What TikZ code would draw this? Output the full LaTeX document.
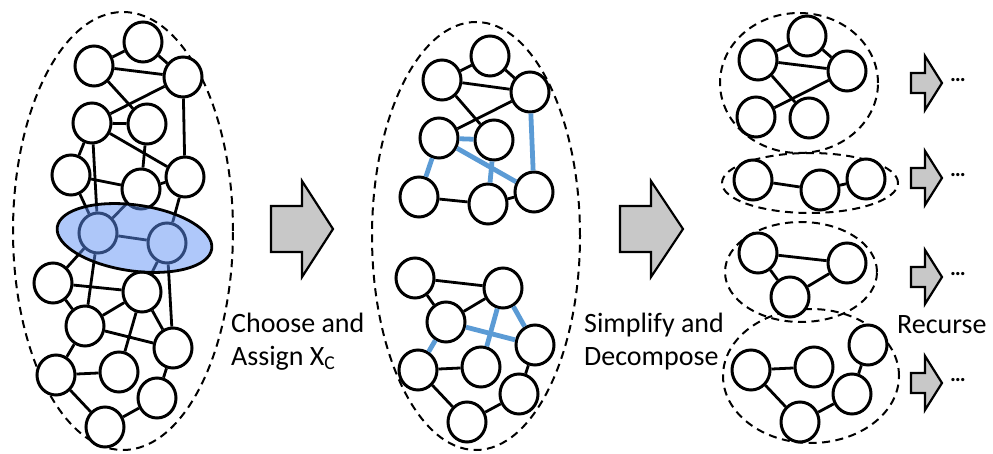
\documentclass[tikz,border=0pt]{standalone}
\usepackage{fontspec}
\setmainfont{Carlito}
\usetikzlibrary{shapes.geometric}
\definecolor{hlblue}{HTML}{5F91F5}
\definecolor{cutblue}{HTML}{5B9BD5}
\definecolor{arrowgray}{HTML}{C8C8C8}
\tikzset{
  vtx/.style={ellipse, draw=black, fill=white, line width=3pt, minimum width=38pt, minimum height=40pt, inner sep=0pt},
  edg/.style={line width=2.8pt, draw=black},
  bedg/.style={line width=4.8pt, draw=cutblue},
  grp/.style={draw=black, line width=2pt, dash pattern=on 8pt off 5.5pt},
  bigarrow/.style={draw=black, fill=arrowgray, line width=2.2pt, line join=miter},
  lbl/.style={font=\fontsize{28}{33}\selectfont, align=left, inner sep=0pt},
  dots/.style={font=\bfseries\fontsize{22}{24}\selectfont, inner sep=0pt}
}
\begin{document}
\begin{tikzpicture}[x=1pt,y=-1pt]
\useasboundingbox (0,0) rectangle (993,454);

% ---------------- left graph ----------------
\draw[grp] (123,231) ellipse [x radius=110pt, y radius=219pt];
\foreach \n/\x/\y in {A/143/42, B/94/66, C/183/77, D/92/123, E/147/124, F/71/175, G/141/189, H/185/177, I/98/233, J/167/243, K/53/283, L/142/292, M/85/326, N/173/348, O/56/375, P/119/372, Q/157/398, R/105/427}
  \node[vtx] (\n) at (\x,\y) {};
\foreach \a/\b in {A/B, A/C, B/C, B/E, C/D, C/H, D/E, D/F, D/I, D/H, E/G, F/G, F/I, G/H, G/I, H/J, I/J, I/K, I/M, J/L, J/N, K/L, K/M, M/L, L/N, L/P, M/N, M/O, O/P, O/R, N/Q, Q/R}
  \draw[edg] (\a) -- (\b);
\draw[fill=hlblue, fill opacity=0.5, draw=black, line width=2.8pt, rotate around={-8:(134.5,238)}] (134.5,238) ellipse [x radius=78pt, y radius=33pt];

% ---------------- arrow 1 + label ----------------
\draw[bigarrow] (271,206) -- (302,206) -- (302,181) -- (333,229) -- (302,277) -- (302,252) -- (271,252) -- cycle;
\node[lbl, anchor=west] (t1) at (231,342) {Choose and\\Assign X\textsubscript{C}};

% ---------------- middle graph ----------------
\draw[grp] (476,236) ellipse [x radius=104pt, y radius=214pt];
\foreach \n/\x/\y in {a/490/56, b/442/80, c/530/92, d/439/138, e/494/140, f/419/197, g/488/204, h/534/192, k/415/278, l/503/288, m/446/322, n/535/345, o/418/370, p/481/367, q/519/394, r/467/422}
  \node[vtx] (\n) at (\x,\y) {};
\foreach \a/\b in {a/b, a/c, b/c, b/e, c/d, f/g, g/h, k/l, k/m, m/l, o/p, o/r, n/q, q/r}
  \draw[edg] (\a) -- (\b);
\foreach \a/\b in {d/e, c/h, d/f, d/h, e/g, l/n, l/p, m/n, m/o}
  \draw[bedg] (\a) -- (\b);

% ---------------- arrow 2 + label ----------------
\draw[bigarrow] (620,206) -- (651,206) -- (651,181) -- (683,229) -- (651,277) -- (651,252) -- (620,252) -- cycle;
\node[lbl, anchor=west] (t2) at (584,342) {Simplify and\\Decompose};

% ---------------- right components ----------------
\draw[grp] (799,83) ellipse [x radius=79pt, y radius=70pt];
\draw[grp] (810,183) ellipse [x radius=88pt, y radius=30pt];
\draw[grp] (801,272) ellipse [x radius=76pt, y radius=50pt];
\draw[grp] (811,376) ellipse [x radius=88pt, y radius=67pt];
\foreach \n/\x/\y in {u1/807/36, u2/758/60, u3/847/71, u4/756/117, u5/809/118, v1/753/180, v2/820/190, v3/866/179, w1/758/253, w2/847/263, w3/790/297, z1/868/345, z2/751/370, z3/814/367, z4/852/394, z5/800/422}
  \node[vtx] (\n) at (\x,\y) {};
\foreach \a/\b in {u1/u2, u1/u3, u2/u3, u2/u5, u3/u4, v1/v2, v2/v3, w1/w2, w1/w3, w3/w2, z2/z3, z2/z5, z5/z4, z4/z1}
  \draw[edg] (\a) -- (\b);

% ---------------- small arrows ----------------
\foreach \i/\y in {1/83, 2/178, 3/277, 4/383} {
  \draw[bigarrow] (911,\y-10) -- (925,\y-10) -- (925,\y-27) -- (942,\y) -- (925,\y+27) -- (925,\y+10) -- (911,\y+10) -- cycle;
  \node[dots, anchor=west] (dots\i) at (950,\y-3) {…};
}
\node[lbl, anchor=west] (t3) at (897,325) {Recurse};
\end{tikzpicture}
\end{document}
